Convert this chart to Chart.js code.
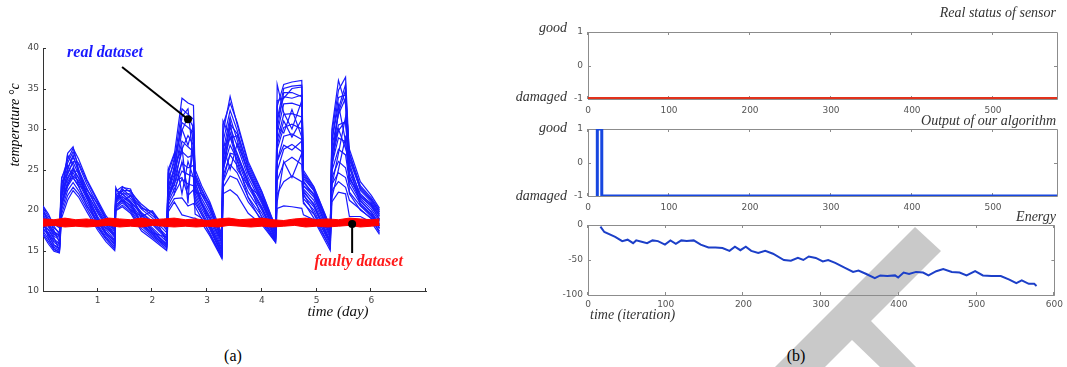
<!DOCTYPE html>
<html>
<head>
<meta charset="utf-8">
<script src="https://cdn.jsdelivr.net/npm/chart.js@4.4.1/dist/chart.umd.min.js"></script>
<style>
  body { margin: 0; background: #fff; }
  #page { position: relative; width: 1067px; height: 367px; overflow: hidden; }
  canvas, svg { position: absolute; }
  .caption { position: absolute; font: 16px 'Liberation Serif', serif; transform: translate(-50%, -50%); }
</style>
</head>
<body>
<div id="page">
  <svg width="1067" height="367" style="left:0;top:0">
    <polygon points="915,227 941,251 871,321 916,367 880,367 852,340 825,367 775,367" fill="#c9c9c9"/>
  </svg>
  <canvas id="tempChart" width="440" height="330" style="left:0;top:0"></canvas>
  <canvas id="statusChart" width="567" height="122" style="left:500px;top:0"></canvas>
  <canvas id="outputChart" width="567" height="108" style="left:500px;top:112px"></canvas>
  <canvas id="energyChart" width="567" height="122" style="left:500px;top:208px"></canvas>
  <div class="caption" style="left:233px;top:356px">(a)</div>
  <div class="caption" style="left:796px;top:356px">(b)</div>
</div>
<script>
// ---- (a) temperature traces ----
const days = [0, 0.1, 0.2, 0.3, 0.34, 0.45, 0.55, 0.65, 0.8, 1.0, 1.15, 1.31, 1.33, 1.45, 1.6,
    1.8, 2.0, 2.26, 2.29, 2.4, 2.54, 2.65, 2.75, 2.78, 2.9, 3.05, 3.27, 3.29, 3.42, 3.55,
    3.75, 4.0, 4.25, 4.28, 4.4, 4.55, 4.73, 4.76, 4.95, 5.25, 5.28, 5.4, 5.53, 5.6, 5.8, 6.0, 6.15];

const sensor1 = [20.3, 19.2, 18.3, 17.8, 23.8, 26.2, 27.6, 26.3, 23.8, 21.2, 19.3, 17.8, 22.3, 22.9, 22.2,
    20.7, 19.6, 17.8, 24.6, 26.8, 33.8, 33.2, 32.9, 24.5, 22.6, 20.6, 16.8, 29.5, 34.0, 30.5,
    25.7, 22.2, 17.8, 32.8, 35.5, 35.8, 36.0, 24.6, 22.8, 17.8, 29.5, 34.8, 36.4, 26.5, 22.8, 21.3, 19.8];
const sensor2 = [19.8, 18.6, 17.8, 17.2, 23.0, 25.8, 27.2, 25.6, 23.2, 20.6, 18.8, 17.3, 21.8, 22.6, 21.7,
    20.1, 19.0, 17.2, 23.8, 25.9, 32.5, 31.8, 31.2, 23.8, 21.9, 20.1, 16.3, 28.4, 32.3, 29.8,
    25.1, 21.6, 17.5, 31.2, 35.0, 35.3, 35.4, 23.9, 22.4, 17.4, 28.6, 33.9, 34.2, 27.0, 22.4, 21.0, 19.5];
const sensor3 = [19.5, 18.2, 17.2, 16.8, 22.5, 25.2, 26.5, 25.0, 22.7, 20.0, 18.3, 16.9, 21.5, 22.3, 21.4,
    19.7, 18.6, 16.8, 23.0, 25.1, 30.8, 30.2, 29.6, 23.2, 21.4, 19.6, 15.9, 27.2, 31.5, 28.6,
    24.5, 21.2, 17.2, 29.5, 33.1, 33.2, 32.8, 23.4, 22.0, 17.1, 27.8, 31.8, 33.8, 25.2, 22.0, 20.7, 19.2];
const sensor4 = [19.0, 17.9, 16.8, 16.3, 22.0, 24.6, 25.9, 24.4, 22.2, 19.6, 18.0, 16.6, 21.2, 22.0, 21.1,
    19.4, 18.2, 16.4, 22.4, 24.4, 28.5, 27.8, 27.2, 22.8, 21.0, 19.2, 15.5, 26.5, 30.2, 27.9,
    24.0, 20.8, 16.9, 28.6, 31.8, 31.9, 31.5, 23.0, 21.6, 16.8, 26.9, 30.5, 30.9, 24.6, 21.7, 20.4, 18.9];
const sensor5 = [18.6, 17.5, 16.4, 15.9, 21.6, 24.0, 25.2, 23.9, 21.8, 19.2, 17.6, 16.3, 20.9, 21.7, 20.8,
    19.0, 17.8, 16.1, 21.8, 23.8, 27.2, 26.5, 26.8, 22.4, 20.6, 18.8, 15.2, 25.8, 29.0, 27.0,
    23.4, 20.4, 16.7, 27.5, 30.2, 30.6, 30.0, 22.6, 21.2, 16.5, 25.6, 28.9, 28.4, 24.0, 21.4, 20.1, 18.6];
const sensor6 = [18.2, 17.1, 16.0, 15.6, 21.0, 23.5, 24.6, 23.4, 21.4, 18.9, 17.3, 16.0, 20.6, 21.4, 20.5,
    18.6, 17.4, 15.8, 21.4, 23.2, 25.8, 25.2, 25.5, 22.0, 20.2, 18.4, 14.9, 25.0, 28.0, 26.2,
    22.8, 20.0, 16.5, 26.0, 29.1, 29.4, 28.7, 22.2, 20.8, 16.2, 24.8, 27.5, 26.8, 23.5, 21.1, 19.8, 18.3];
const sensor7 = [17.8, 16.8, 15.7, 15.3, 20.5, 22.9, 24.0, 22.9, 21.0, 18.5, 17.0, 15.7, 20.4, 21.1, 20.3,
    18.3, 17.0, 15.6, 21.0, 22.6, 24.8, 24.4, 24.1, 21.6, 19.8, 18.0, 14.6, 24.2, 26.8, 25.5,
    22.2, 19.6, 16.4, 24.8, 27.5, 28.1, 27.2, 21.8, 20.4, 15.9, 24.0, 26.0, 25.2, 23.0, 20.8, 19.5, 18.0];
const sensor8 = [17.4, 16.4, 15.4, 15.0, 20.0, 22.4, 23.4, 22.4, 20.6, 18.2, 16.7, 15.4, 20.2, 20.9, 20.0,
    18.0, 16.8, 15.4, 20.6, 22.0, 23.8, 23.2, 23.0, 21.2, 19.4, 17.6, 14.4, 23.4, 25.6, 24.6,
    21.6, 19.2, 16.2, 23.6, 25.8, 26.5, 25.6, 21.4, 20.0, 15.6, 23.2, 24.6, 24.0, 22.2, 20.5, 19.2, 17.7];
const sensor9 = [17.1, 16.1, 15.1, 14.8, 19.5, 21.8, 22.8, 22.0, 20.2, 17.8, 16.4, 15.2, 20.0, 20.6, 19.8,
    17.7, 16.6, 15.2, 20.2, 21.4, 21.5, 20.5, 20.8, 20.4, 18.9, 17.2, 14.2, 22.8, 24.2, 23.8,
    21.0, 18.8, 16.1, 22.0, 23.5, 24.2, 23.5, 20.8, 19.5, 15.3, 22.4, 23.5, 22.8, 21.2, 20.1, 18.9, 17.4];
const sensor10 = [16.9, 15.8, 14.9, 14.7, 19.0, 21.2, 22.4, 21.6, 19.8, 17.5, 16.1, 15.0, 19.9, 20.4, 19.6,
    17.4, 16.4, 15.0, 19.8, 21.0, 19.4, 19.2, 19.0, 19.0, 18.4, 16.8, 14.0, 22.0, 22.5, 21.8,
    19.6, 18.2, 16.0, 20.2, 20.5, 20.4, 20.2, 19.4, 18.8, 15.0, 21.0, 22.2, 22.0, 19.2, 19.2, 18.5, 17.0];
const sensor11 = [20.0, 18.9, 17.5, 16.0, 21.0, 23.0, 24.8, 24.8, 22.6, 20.2, 18.6, 17.0, 21.0, 22.0, 22.0,
    20.2, 19.8, 16.0, 22.0, 25.5, 27.5, 29.2, 28.0, 22.2, 22.0, 20.8, 15.8, 30.5, 33.2, 30.8,
    26.0, 22.3, 17.9, 26.0, 28.0, 27.4, 28.5, 24.9, 22.9, 17.9, 26.0, 29.8, 31.0, 27.0, 23.0, 21.5, 20.0];
const sensor12 = [18.0, 17.6, 16.6, 15.0, 20.3, 25.0, 26.8, 24.6, 21.6, 18.0, 16.5, 15.5, 21.0, 22.8, 22.6,
    18.8, 17.6, 15.6, 21.2, 24.0, 29.8, 31.5, 30.2, 23.6, 20.8, 18.2, 15.0, 23.5, 27.0, 26.8,
    23.6, 19.0, 16.3, 31.0, 34.0, 33.8, 34.2, 22.0, 19.6, 16.0, 25.0, 32.5, 35.5, 25.5, 20.6, 19.4, 17.8];
const sensor13 = [20.5, 19.5, 18.0, 17.0, 22.0, 27.0, 27.8, 25.0, 22.0, 19.0, 17.2, 16.2, 22.5, 22.0, 21.0,
    18.2, 17.0, 15.4, 25.0, 27.0, 22.0, 26.0, 24.0, 19.5, 19.0, 17.0, 14.2, 31.0, 29.0, 26.0,
    21.5, 18.5, 16.0, 35.5, 32.0, 30.0, 33.5, 21.0, 19.0, 15.4, 30.0, 36.0, 33.0, 22.0, 20.0, 19.0, 17.2];
const sensor14 = [18.8, 16.5, 15.2, 14.8, 24.0, 25.5, 24.0, 23.0, 22.5, 20.8, 19.0, 17.5, 22.0, 21.2, 20.0,
    19.2, 19.9, 17.5, 25.0, 22.0, 26.0, 22.5, 28.0, 25.0, 23.0, 21.0, 17.0, 26.0, 31.0, 25.0,
    23.0, 21.5, 18.0, 21.0, 26.0, 24.0, 27.0, 23.0, 22.0, 18.0, 21.5, 25.0, 29.0, 27.5, 23.5, 21.8, 20.2];
const sensor15 = [17.5, 17.2, 16.2, 15.8, 21.5, 26.8, 25.5, 23.0, 20.5, 18.6, 17.8, 16.8, 22.8, 21.0, 21.8,
    19.4, 17.2, 16.6, 22.6, 23.0, 27.8, 20.8, 30.8, 22.8, 20.8, 19.0, 16.0, 27.8, 28.8, 29.2,
    24.6, 21.0, 17.2, 30.2, 29.5, 32.4, 29.0, 23.6, 21.8, 16.8, 27.0, 30.0, 27.6, 25.8, 21.6, 20.6, 18.8];
const sensor16 = [19.2, 18.0, 17.0, 16.6, 22.2, 23.8, 25.0, 24.0, 22.0, 19.8, 18.2, 16.8, 21.4, 21.6, 21.0,
    19.6, 18.4, 16.6, 22.8, 24.8, 31.5, 32.5, 26.0, 24.0, 22.0, 20.0, 16.4, 28.0, 25.0, 28.2,
    24.8, 21.4, 17.2, 30.0, 34.5, 34.5, 34.0, 24.2, 22.4, 17.4, 28.5, 33.0, 28.5, 23.8, 21.8, 20.8, 19.3];
const sensor17 = [18.4, 17.0, 15.6, 15.2, 20.8, 23.2, 24.2, 23.6, 21.6, 18.8, 17.0, 15.8, 20.6, 21.2, 20.6,
    18.4, 17.2, 15.8, 21.6, 23.6, 24.0, 21.8, 22.5, 20.8, 19.5, 17.8, 14.6, 24.6, 29.6, 26.6,
    23.2, 20.2, 16.6, 28.0, 31.0, 29.0, 31.2, 22.4, 20.6, 16.0, 23.0, 27.0, 31.5, 24.2, 21.2, 19.7, 18.1];
const sensor18 = [20.0, 18.4, 17.3, 16.9, 23.5, 24.4, 26.0, 25.8, 23.6, 21.0, 19.0, 17.6, 21.4, 22.4, 22.4,
    20.4, 19.3, 17.6, 23.4, 26.4, 30.0, 28.0, 30.5, 24.2, 22.4, 20.4, 16.6, 24.8, 30.6, 29.4,
    25.4, 21.9, 17.6, 33.5, 33.8, 35.0, 35.2, 24.4, 22.6, 17.6, 26.8, 32.0, 34.8, 26.2, 22.6, 21.2, 19.7];
const realSensors = [sensor1, sensor2, sensor3, sensor4, sensor5, sensor6, sensor7, sensor8, sensor9,
    sensor10, sensor11, sensor12, sensor13, sensor14, sensor15, sensor16, sensor17, sensor18];

// faulty sensor: noisy band around 18.4
const faultyDays = [0, 0.2, 0.4, 0.6, 0.8, 1.0, 1.2, 1.4, 1.6, 1.8, 2.0, 2.2, 2.4, 2.6, 2.8, 3.0,
    3.2, 3.4, 3.6, 3.8, 4.0, 4.2, 4.4, 4.6, 4.8, 5.0, 5.2, 5.4, 5.6, 5.8, 6.0, 6.15];
const faultyHigh = [18.9, 18.8, 19.0, 18.8, 18.9, 18.7, 19.0, 18.9, 18.8, 19.0, 18.8, 18.9, 19.0, 18.8, 18.9, 18.7,
    18.9, 19.0, 18.8, 18.9, 19.0, 18.8, 18.7, 18.9, 19.0, 18.8, 18.9, 18.8, 19.0, 18.9, 18.8, 18.9];
const faultyLow = [18.0, 18.1, 17.9, 18.0, 17.9, 18.0, 18.1, 17.9, 18.0, 17.9, 18.1, 18.0, 17.9, 18.0, 17.9, 18.0,
    17.9, 18.1, 18.0, 17.9, 18.0, 17.9, 18.0, 18.1, 17.9, 18.0, 17.9, 18.0, 18.1, 17.9, 18.0, 18.1];

// pointers of the two labels (day, temperature)
const realPointer = [[1.445, 37.65], [2.65, 31.2]];
const faultyPointer = [[5.65, 18.27], [5.65, 14.7]];
const dayTicks = [1, 2, 3, 4, 5, 6, 7];

// ---- (b) status and energy ----
const statusIter = [0, 579];
const statusReal = [-1, -1];
const outputIter = [11.5, 11.5, 17, 17, 579];
const outputValue = [-1, 1, 1, -1, -1];
const energyIter = [16, 21, 35, 44, 51, 58, 62, 69, 76, 83, 90, 99, 106, 113, 120, 127, 136, 145, 155, 164,
    173, 182, 189, 196, 203, 210, 219, 228, 238, 252, 261, 270, 277, 284, 293, 302, 309, 318, 330, 341,
    348, 358, 369, 376, 385, 395, 399, 406, 413, 422, 431, 438, 448, 457, 468, 478, 487, 498, 508, 519,
    531, 542, 551, 558, 567, 574, 577];
const energyValue = [-2.4, -10, -17, -23, -21, -26, -22, -24, -26, -22, -23, -28, -22, -27, -22, -23, -22, -28, -32, -32,
    -33, -37, -31, -36, -31, -37, -40, -37, -41, -50, -51, -47, -50, -45, -47, -52, -50, -54, -61, -67,
    -65, -70, -76, -72, -73, -72, -75, -68, -70, -67, -68, -72, -66, -63, -67, -68, -72, -66, -72, -73,
    -73, -78, -83, -79, -84, -84, -87];

const toPoints = (xs, ys) => xs.map((x, i) => ({x: x, y: ys[i]}));
const pairPoints = (pairs) => pairs.map(p => ({x: p[0], y: p[1]}));
const serif = "'Liberation Serif', 'DejaVu Serif', serif";

// small tick marks drawn inside the plot, plus an optional frame
const insideTicks = {
    id: 'insideTicks',
    beforeDatasetsDraw(chart, args, opts) {
        const ctx = chart.ctx;
        const a = chart.chartArea;
        const x = chart.scales.x, y = chart.scales.y;
        ctx.save();
        ctx.strokeStyle = opts.color;
        ctx.lineWidth = 1;
        ctx.beginPath();
        if (opts.box) {
            ctx.rect(Math.round(a.left) + 0.5, Math.round(a.top) + 0.5,
                Math.round(a.right - a.left), Math.round(a.bottom - a.top));
        }
        x.ticks.forEach(t => {
            const px = Math.round(x.getPixelForValue(t.value)) - 0.5;
            ctx.moveTo(px, a.bottom); ctx.lineTo(px, a.bottom - opts.len);
            if (opts.box) { ctx.moveTo(px, a.top); ctx.lineTo(px, a.top + opts.len); }
        });
        y.ticks.forEach(t => {
            const py = Math.round(y.getPixelForValue(t.value)) + 0.5;
            ctx.moveTo(a.left, py); ctx.lineTo(a.left + opts.len, py);
            if (opts.box) { ctx.moveTo(a.right, py); ctx.lineTo(a.right - opts.len, py); }
        });
        ctx.stroke();
        ctx.restore();
    }
};

// free text: titles, state names, dataset labels
const notes = {
    id: 'notes',
    afterDraw(chart, args, opts) {
        const ctx = chart.ctx;
        (opts.items || []).forEach(n => {
            let px = n.x, py = n.y;
            if (n.data) {
                px = chart.scales.x.getPixelForValue(n.x);
                py = chart.scales.y.getPixelForValue(n.y);
            }
            ctx.save();
            ctx.font = n.font;
            ctx.fillStyle = n.color;
            ctx.textAlign = n.align || 'left';
            ctx.textBaseline = 'middle';
            ctx.translate(px, py);
            if (n.rot) ctx.rotate(n.rot);
            ctx.fillText(n.text, 0, 0);
            ctx.restore();
        });
    }
};

Chart.defaults.font.family = "'DejaVu Sans', sans-serif";
Chart.defaults.animation = false;

// ---------- chart (a) ----------
const tempSets = [];
tempSets.push({
    data: pairPoints(realPointer), borderColor: '#000', borderWidth: 2,
    pointRadius: [0, 4], pointBackgroundColor: '#000', pointBorderWidth: 0, order: 0
});
tempSets.push({
    data: pairPoints(faultyPointer), borderColor: '#000', borderWidth: 2,
    pointRadius: [4, 0], pointBackgroundColor: '#000', pointBorderWidth: 0, order: 0
});
tempSets.push({
    data: toPoints(faultyDays, faultyHigh), borderColor: '#ff0000', borderWidth: 1,
    backgroundColor: '#ff0000', fill: '+1', pointRadius: 0, order: 1
});
tempSets.push({
    data: toPoints(faultyDays, faultyLow), borderColor: '#ff0000', borderWidth: 1,
    pointRadius: 0, order: 1
});
realSensors.forEach(vals => {
    tempSets.push({
        data: toPoints(days, vals), borderColor: '#1a1aff', borderWidth: 1.2,
        pointRadius: 0, order: 2
    });
});

new Chart(document.getElementById('tempChart'), {
    type: 'line',
    data: { datasets: tempSets },
    plugins: [insideTicks, notes],
    options: {
        responsive: false,
        layout: { padding: { top: 48, right: 14 } },
        scales: {
            x: {
                type: 'linear', min: 0, max: 7,
                grid: { display: false, drawTicks: false },
                border: { display: true, color: '#333' },
                afterBuildTicks: s => { s.ticks = dayTicks.map(v => ({ value: v })); },
                afterFit: s => { s.height = 39; },
                ticks: { padding: 4, color: '#444', font: { size: 9 }, callback: v => (v < 7 ? v : '') }
            },
            y: {
                min: 10, max: 40,
                grid: { display: false, drawTicks: false },
                border: { display: true, color: '#333' },
                afterFit: s => { s.width = 43; },
                ticks: { stepSize: 5, padding: 4, color: '#444', font: { size: 9 } }
            }
        },
        plugins: {
            legend: { display: false },
            tooltip: { enabled: false },
            insideTicks: { len: 3, color: '#333', box: false },
            notes: {
                items: [
                    { text: 'temperature °c', x: 15, y: 125, rot: -Math.PI / 2, align: 'center', font: 'italic 14px ' + serif, color: '#000' },
                    { text: 'time (day)', x: 338, y: 312, align: 'center', font: 'italic 15px ' + serif, color: '#111' },
                    { text: 'real dataset', x: 0.44, y: 39.4, data: true, font: 'bold italic 16px ' + serif, color: '#1a1aff' },
                    { text: 'faulty dataset', x: 4.96, y: 13.6, data: true, font: 'bold italic 16px ' + serif, color: '#ff1a1a' }
                ]
            }
        }
    }
});

// ---------- chart (b) ----------
function panelOptions(cfg) {
    return {
        responsive: false,
        layout: { padding: { top: cfg.top, right: 10 } },
        scales: {
            x: {
                type: 'linear', min: 0, max: cfg.xMax,
                grid: { display: false, drawTicks: false },
                border: { display: false },
                afterBuildTicks: s => { s.ticks = s.ticks.filter(t => Math.abs(t.value % 100) < 1e-6); },
                afterFit: s => { s.height = cfg.xHeight; },
                ticks: { stepSize: 100, padding: cfg.xPad, color: '#555', font: { size: 9 } }
            },
            y: {
                min: cfg.yMin, max: cfg.yMax,
                grid: { display: false, drawTicks: false },
                border: { display: false },
                afterFit: s => { s.width = 88; },
                ticks: { stepSize: cfg.yStep, padding: 5, color: '#555', font: { size: 9 } }
            }
        },
        plugins: {
            legend: { display: false },
            tooltip: { enabled: false },
            insideTicks: { len: 3, color: '#8c8c8c', box: true },
            notes: { items: cfg.notes }
        }
    };
}

const titleFont = 'italic 14px ' + serif;

new Chart(document.getElementById('statusChart'), {
    type: 'line',
    data: { datasets: [{
        data: toPoints(statusIter, statusReal), borderColor: '#e2321c', borderWidth: 4, pointRadius: 0
    }] },
    plugins: [insideTicks, notes],
    options: panelOptions({
        top: 32, xMax: 579, xHeight: 23, xPad: 6, yMin: -1, yMax: 1, yStep: 1,
        notes: [
            { text: 'Real status of sensor', x: 556, y: 13, align: 'right', font: titleFont, color: '#333' },
            { text: 'good', x: 67, y: 28, align: 'right', font: titleFont, color: '#333' },
            { text: 'damaged', x: 67, y: 97, align: 'right', font: titleFont, color: '#333' }
        ]
    })
});

new Chart(document.getElementById('outputChart'), {
    type: 'line',
    data: { datasets: [{
        data: toPoints(outputIter, outputValue), borderColor: '#1747e0', borderWidth: 3, pointRadius: 0
    }] },
    plugins: [insideTicks, notes],
    options: panelOptions({
        top: 17, xMax: 579, xHeight: 24, xPad: 6, yMin: -1, yMax: 1, yStep: 1,
        notes: [
            { text: 'Output of our algorithm', x: 556, y: 9, align: 'right', font: titleFont, color: '#333' },
            { text: 'good', x: 67, y: 16, align: 'right', font: titleFont, color: '#333' },
            { text: 'damaged', x: 67, y: 84, align: 'right', font: titleFont, color: '#333' }
        ]
    })
});

new Chart(document.getElementById('energyChart'), {
    type: 'line',
    data: { datasets: [{
        data: toPoints(energyIter, energyValue), borderColor: '#1c3fc8', borderWidth: 2, pointRadius: 0
    }] },
    plugins: [insideTicks, notes],
    options: panelOptions({
        top: 17, xMax: 600, xHeight: 35, xPad: 4, yMin: -100, yMax: 0, yStep: 50,
        notes: [
            { text: 'Energy', x: 556, y: 9, align: 'right', font: titleFont, color: '#333' },
            { text: 'time (iteration)', x: 90, y: 107, align: 'left', font: titleFont, color: '#333' }
        ]
    })
});
</script>
</body>
</html>
